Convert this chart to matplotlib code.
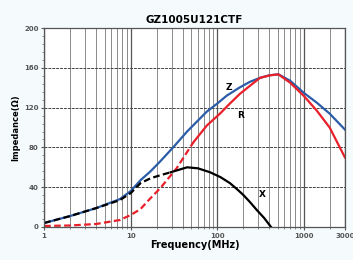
import matplotlib
matplotlib.use("Agg")
import matplotlib.pyplot as plt
from matplotlib.ticker import LogLocator, MultipleLocator, FixedLocator

# values (frequency in MHz, impedance in ohm)
z_freq = [1, 2, 4, 7.5, 10, 13, 17, 22, 31, 45, 60, 76, 100, 129, 180, 240, 314, 400, 511, 700, 1000, 1420, 2000, 3000]
z_vals = [4, 11, 19, 28, 36, 47, 56, 66, 80, 96, 107, 116, 124, 132, 140, 146, 150, 152.5, 153.5, 147, 135, 125, 114, 98]

r_freq = [1, 2, 4, 7.5, 10, 13, 17, 22, 34, 53, 76, 108, 140, 184, 240, 314, 410, 511, 700, 1000, 1420, 2000, 3000]
r_vals = [1, 1.5, 3, 7, 12, 18, 29, 39, 59, 85, 102, 114, 124, 134, 142, 150, 152.5, 153.5, 145, 132, 117, 100, 70]
r_split = 9  # dashed up to 53 MHz

x_freq = [1, 2, 4, 7.5, 10, 13, 17, 22, 29, 45, 60, 83, 110, 141, 170, 202, 240, 288, 350, 420]
x_vals = [4, 11, 19, 27, 34, 44, 49, 52, 55, 60, 59, 55, 50, 44, 38, 32, 25, 17, 9, 0]
x_split = 8  # dashed up to 29 MHz

y_ticks = [0, 40, 80, 120, 160, 200]
x_ticks = [1, 10, 100, 1000, 3000]
x_ticklabels = ["1", "10", "100", "1000", "3000"]

fig = plt.figure(figsize=(3.53, 2.60), dpi=100)
fig.patch.set_facecolor("#f5fafc")
ax = fig.add_axes([0.125, 0.127, 0.852, 0.765])
ax.set_facecolor("white")

ax.set_xscale("log")
ax.set_xlim(1, 3000)
ax.set_ylim(0, 200)

# grid: every log step vertically, every 40 horizontally
ax.xaxis.set_major_locator(FixedLocator(x_ticks))
ax.xaxis.set_minor_locator(LogLocator(base=10, subs=range(2, 10)))
ax.set_xticks(x_ticks)
ax.set_xticklabels(x_ticklabels)
ax.set_yticks(y_ticks)
ax.yaxis.set_minor_locator(MultipleLocator(8))
ax.grid(True, which="major", axis="x", color="#555555", lw=0.9)
ax.grid(True, which="minor", axis="x", color="#777777", lw=0.6)
ax.grid(True, which="major", axis="y", color="#444444", lw=0.7, ls=(0, (3, 1)))

ax.tick_params(axis="both", which="major", labelsize=5, colors="#555555", length=2, pad=2)
ax.tick_params(axis="both", which="minor", length=1.5, colors="#777777")
ax.tick_params(axis="x", which="minor", labelbottom=False)
for lab in ax.get_xticklabels() + ax.get_yticklabels():
    lab.set_fontweight("bold")
for sp in ax.spines.values():
    sp.set_color("#555555")
    sp.set_linewidth(0.9)

# curves
ax.plot(z_freq, z_vals, color="#2b5ca8", lw=1.6)
ax.plot(r_freq[:r_split + 1], r_vals[:r_split + 1], color="#e8202a", lw=1.6, ls=(0, (3, 1.5)))
ax.plot(r_freq[r_split:], r_vals[r_split:], color="#e8202a", lw=1.6)
ax.plot(x_freq[:x_split + 1], x_vals[:x_split + 1], color="black", lw=1.6, ls=(0, (3, 1.5)))
ax.plot(x_freq[x_split:], x_vals[x_split:], color="black", lw=1.6)

ax.text(125, 138, "Z", fontsize=6.5, fontweight="bold")
ax.text(170, 110, "R", fontsize=6.5, fontweight="bold")
ax.text(300, 30, "X", fontsize=6.5, fontweight="bold")

ax.set_title("GZ1005U121CTF", fontsize=7.5, fontweight="bold", pad=4)
ax.set_xlabel("Frequency(MHz)", fontsize=7, fontweight="bold", labelpad=1)
ax.set_ylabel("Impedance(Ω)", fontsize=6, fontweight="bold", labelpad=3)

fig.savefig("out.png", dpi=100, facecolor=fig.get_facecolor())
